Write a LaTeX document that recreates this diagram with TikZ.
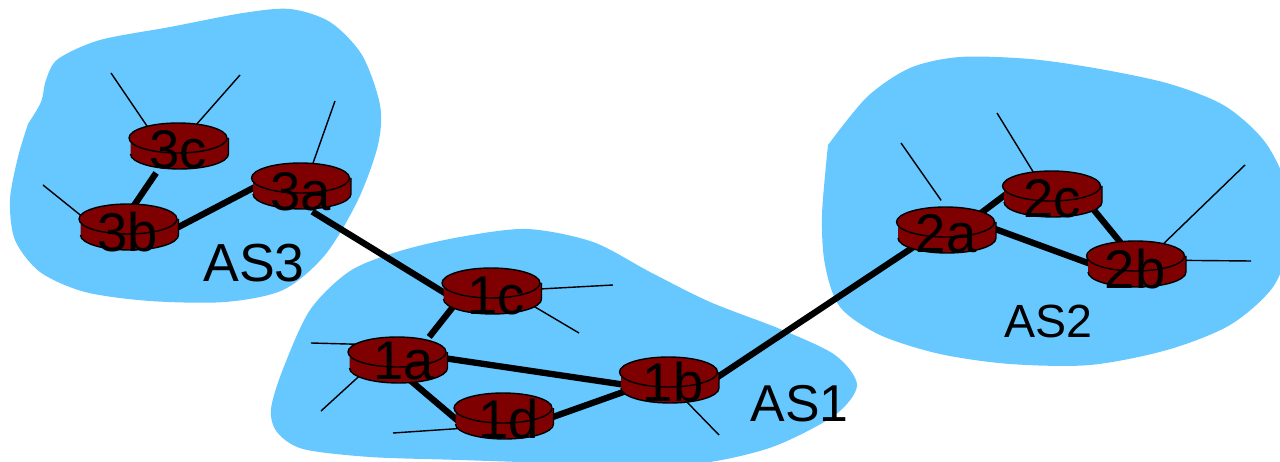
\documentclass[tikz,border=0pt]{standalone}
\usepackage{xcolor}
\usepackage{fontspec}
\setmainfont{Liberation Sans}
\usepackage{tikz}
\usetikzlibrary{backgrounds}
\definecolor{asblue}{HTML}{66C8FF}
\definecolor{routerred}{HTML}{7F0000}
\tikzset{
 asarea/.style={fill=asblue, draw=none},
 link/.style={black, line width=3.6pt},
 stubline/.style={black, line width=0.8pt},
 routerlabel/.style={inner sep=0pt, font=\fontsize{31}{31}\selectfont},
 aslabel/.style={inner sep=0pt, font=\fontsize{#1}{#1}\selectfont},
 aslabel/.default=29
}
% name, disc position, text position, text
\newcommand{\router}[4]{
 \begin{scope}[shift={(#2)}]
	\fill[routerred] (-47.5,0) -- (-47.5,16) arc[start angle=180,end angle=360,x radius=.98cm,y radius=.3cm] -- (50.5,0) -- cycle;
	\draw[stubline] (-47.5,16) arc[start angle=180,end angle=360,x radius=.98cm,y radius=.3cm] -- (50.5,0);
	\draw[stubline, fill=routerred] (0,0) ellipse[x radius=.98cm,y radius=.3cm];
 \end{scope}
 \node[routerlabel] (#1) at (#3) {#4};
}
\begin{document}
\begin{tikzpicture}[x=0.02cm, y=-0.02cm]
 \useasboundingbox (0,0) rectangle (1280,462);
 \router{r3c}{178,138}{178,150}{3c}
 \router{r3b}{128,219}{128,232}{3b}
 \router{r3a}{300.5,178}{301,192}{3a}
 %AS2
 \router{r2a}{945.5,222}{946,234}{2a}
 \router{r2c}{1051.5,186}{1052,199}{2c}
 \router{r2b}{1135.5,256}{1135,269}{2b}
 %AS1
 \router{r1c}{491,283}{496,296}{1c}
 \router{r1a}{397,352}{404,361}{1a}
 \router{r1b}{668.5,372}{673,382}{1b}
 \router{r1d}{503,408}{509,419}{1d}
 \node[aslabel=30.5] (as3) at (254,263) {AS3};
 \node[aslabel=26.5] (as2) at (1048,321) {AS2};
 \node[aslabel=29.5] (as1) at (799.5,404) {AS1};
 \coordinate (e3cl) at (111,73);
 \coordinate (e3cr) at (240,75);
 \coordinate (e3a) at (335,101);
 \coordinate (e3b) at (43,185);
 \coordinate (e2a) at (901,143);
 \coordinate (e2c) at (997,113);
 \coordinate (e2bt) at (1245,165);
 \coordinate (e2br) at (1251,261);
 \coordinate (e1ct) at (613,285);
 \coordinate (e1cb) at (579,333);
 \coordinate (e1at) at (311,343);
 \coordinate (e1ab) at (321,411);
 \coordinate (e1d) at (393,433);
 \coordinate (e1b) at (719,435);
 \begin{scope}[on background layer]
	\fill[asarea] plot[smooth, tension=0.5] coordinates {(28,124) (41,102) (46,80) (58,59) (100,40) (170,27) (243,13) (290,9) (330,22) (362,55) (380,105) (378,145) (358,200) (325,255) (283,290) (225,302) (150,301) (85,292) (40,272) (15,240) (10,200) (18,157) (28,124)} -- cycle;
	\fill[asarea] plot[smooth, tension=0.5] coordinates {(828,145) (867,97) (910,68) (960,57) (1030,59) (1100,69) (1170,84) (1225,106) (1265,142) (1288,190) (1290,240) (1273,287) (1230,325) (1167,350) (1090,365) (1010,364) (940,354) (880,335) (840,307) (825,265) (822,215) (828,145)} -- cycle;
	\fill[asarea] plot[smooth cycle, tension=0.5] coordinates {(271,409) (283,369) (310,310) (350,271) (400,251) (460,237) (527,229) (593,242) (650,272) (710,302) (780,329) (835,355) (857,385) (835,415) (775,446) (710,462) (640,466) (550,463) (460,460) (370,457) (303,449) (277,432)};
	%Stubs
	\draw[stubline] (r3c.145) -- (e3cl);
	\draw[stubline] (r3c.56) -- (e3cr);
	\draw[stubline] (r3a.66) -- (e3a);
	\draw[stubline] (r3b.174) -- (e3b);
	\draw[stubline, shorten <=0.34cm] (r2a.76) -- (e2a);
	\draw[stubline] (r2c.126) -- (e2c);
	\draw[stubline] (r2b.41) -- (e2bt);
	\draw[stubline] (r2b.16) -- (e2br);
	\draw[stubline] (r1c.12) -- (e1ct);
	\draw[stubline] (r1c.-10) -- (e1cb);
	\draw[stubline] (r1a.152) -- (e1at);
	\draw[stubline] (r1a.184) -- (e1ab);
	\draw[stubline] (r1d.195) -- (e1d);
	\draw[stubline] (r1b.-55) -- (e1b);
	%Links
	\draw[link, shorten <=0.08cm] (r3c.-135) -- (r3b.85);
	\draw[link] (r3b.-10) -- (r3a.157);
	\draw[link] (r3a.-60) -- (r1c.-160);
	\draw[link, shorten >=0.12cm] (r1c.167) -- (r1a.42);
	\draw[link] (r1a.8) -- (r1b.190);
	\draw[link, shorten >=0.3cm] (r1a.-72) -- (r1d.212);
	\draw[link] (r1d.-5) -- (r1b.186);
	\draw[link] (r1b.-8) -- (r2a.201);
	\draw[link] (r2a.30) -- (r2c.149);
	\draw[link] (r2a.21) -- (r2b.180);
	\draw[link] (r2c.9) -- (r2b.115);
 \end{scope}
\end{tikzpicture}
\end{document}
